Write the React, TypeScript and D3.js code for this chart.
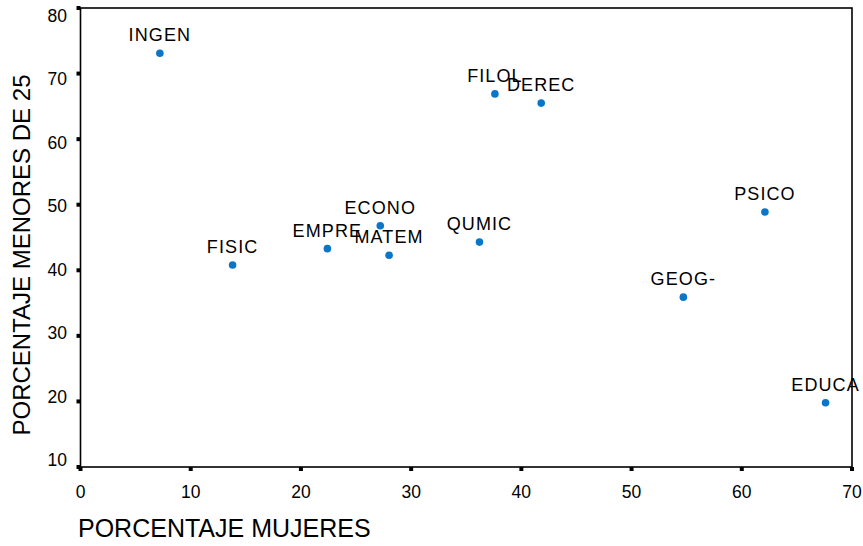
import * as d3 from 'd3'

const labels = ['INGEN', 'FILOL', 'DEREC', 'PSICO', 'ECONO', 'QUMIC', 'EMPRE', 'MATEM', 'FISIC', 'GEOG-', 'EDUCA']
const pctWomen = [7.2, 37.6, 41.8, 62.1, 27.2, 36.2, 22.4, 28.0, 13.8, 54.7, 67.6]
const pctUnder25 = [73.1, 66.9, 65.5, 48.9, 46.8, 44.3, 43.3, 42.3, 40.8, 35.9, 19.8]
const xTicks = [0, 10, 20, 30, 40, 50, 60, 70]
const yTicks = [10, 20, 30, 40, 50, 60, 70, 80]

const W = 863
const H = 546
const font = '"Liberation Sans", Arial, sans-serif'

export default function App() {
  const x = d3.scaleLinear().domain([0, 70]).range([80.5, 852])
  const y = d3.scaleLinear().domain([10, 80]).range([467, 8])
  // tick labels sit on a slightly tighter spacing than the tick marks
  const yLab = d3.scaleLinear().domain([10, 80]).range([460, 16])

  return (
    <svg width={W} height={H} style={{ position: 'absolute', left: 0, top: 0, background: '#fff' }} fontFamily={font}>
      {/* frame */}
      <rect x={x(0)} y={y(80)} width={x(70) - x(0)} height={y(10) - y(80)} fill="none" stroke="#000" strokeWidth={1.6} />

      {/* x ticks */}
      {xTicks.map(t => (
        <g key={'x' + t}>
          <line x1={x(t)} x2={x(t)} y1={y(10)} y2={y(10) + 4} stroke="#000" strokeWidth={4} />
          <text x={x(t)} y={498} textAnchor="middle" fontSize={17.5}>{t}</text>
        </g>
      ))}

      {/* y ticks */}
      {yTicks.map(t => (
        <g key={'y' + t}>
          <line x1={x(0) - 4} x2={x(0)} y1={y(t)} y2={y(t)} stroke="#000" strokeWidth={4} />
          <text x={67} y={yLab(t) + 6} textAnchor="end" fontSize={17.5}>{t}</text>
        </g>
      ))}

      {/* points and labels */}
      {labels.map((lab, i) => (
        <g key={lab}>
          <circle cx={x(pctWomen[i])} cy={y(pctUnder25[i])} r={3.8} fill="#0A76C8" />
          <text x={x(pctWomen[i])} y={y(pctUnder25[i]) - 12} textAnchor="middle" fontSize={18} letterSpacing={1.1}>
            {lab}
          </text>
        </g>
      ))}

      {/* axis titles */}
      <text x={78} y={537} fontSize={25}>PORCENTAJE MUJERES</text>
      <text transform={`translate(30, 255) rotate(-90)`} textAnchor="middle" fontSize={24}>
        PORCENTAJE MENORES DE 25
      </text>
    </svg>
  )
}
